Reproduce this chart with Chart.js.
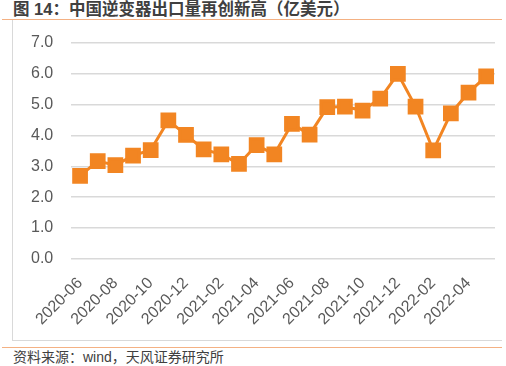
<!DOCTYPE html>
<html>
<head>
<meta charset="utf-8">
<script src="https://cdn.jsdelivr.net/npm/chart.js@4"></script>
<style>
  html, body { margin: 0; padding: 0; background: #fff; }
  body { width: 506px; height: 366px; position: relative; overflow: hidden; font-family: "Liberation Sans", "Noto Sans CJK SC", sans-serif; }
  #title { position: absolute; left: 13px; top: 0px; font-size: 16.5px; font-weight: bold; color: #404040; font-family: "Liberation Sans", "Noto Sans CJK SC", sans-serif; line-height: 18px; }
  #topline { position: absolute; left: 2px; top: 19px; width: 500px; height: 1px; background: #f4b183; }
  #box { position: absolute; left: 12px; top: 20px; width: 489px; height: 320px; border-left: 1px solid #d9d9d9; border-bottom: 1px solid #d9d9d9; }
  #wrap { position: absolute; left: 13px; top: 21px; width: 494px; height: 318px; }
  #botline { position: absolute; left: 2px; top: 347px; width: 500px; height: 1px; background: #f4b183; }
  #source { position: absolute; left: 13px; top: 349px; font-size: 14px; color: #404040; line-height: 17px; font-family: "Liberation Sans", "Noto Sans CJK SC", sans-serif; }
</style>
</head>
<body>
<div id="title">图 14：中国逆变器出口量再创新高（亿美元）</div>
<div id="topline"></div>
<div id="box"></div>
<div id="wrap"><canvas id="c"></canvas></div>
<div id="botline"></div>
<div id="source">资料来源：wind，天风证券研究所</div>
<script>
// months 2020-06 .. 2022-05
const months = ['2020-06','2020-07','2020-08','2020-09','2020-10','2020-11','2020-12',
  '2021-01','2021-02','2021-03','2021-04','2021-05','2021-06','2021-07','2021-08','2021-09',
  '2021-10','2021-11','2021-12','2022-01','2022-02','2022-03','2022-04','2022-05'];

// export value, 亿美元
const exportValue = [2.69, 3.17, 3.04, 3.35, 3.53, 4.49, 4.02, 3.55, 3.39, 3.08, 3.69, 3.39,
  4.38, 4.03, 4.92, 4.94, 4.81, 5.20, 6.00, 4.94, 3.52, 4.72, 5.39, 5.92];

const yTicks = [0, 1, 2, 3, 4, 5, 6, 7];

const orange = '#f28522';

new Chart(document.getElementById('c'), {
  type: 'line',
  data: {
    labels: months,
    datasets: [{
      data: exportValue,
      borderColor: orange,
      backgroundColor: orange,
      borderWidth: 3,
      pointStyle: 'rect',
      pointRadius: 9,
      pointHoverRadius: 9,
      tension: 0
    }]
  },
  options: {
    responsive: true,
    maintainAspectRatio: false,
    animation: false,
    layout: { padding: { top: 22, right: 1, bottom: 3, left: 0 } },
    plugins: { legend: { display: false }, tooltip: { enabled: false } },
    scales: {
      x: {
        offset: true,
        afterFit: (axis) => { axis.paddingRight = 0; },
        grid: { display: false },
        border: { display: false },
        ticks: {
          autoSkip: false,
          maxRotation: 45,
          minRotation: 45,
          color: '#595959',
          font: { family: 'Liberation Sans', size: 16 },
          padding: 7,
          callback: (v, i) => (i % 2 === 0 ? months[i] : '')
        }
      },
      y: {
        min: yTicks[0],
        max: yTicks[yTicks.length - 1],
        afterBuildTicks: (axis) => { axis.ticks = yTicks.map(v => ({ value: v })); },
        // tick padding would otherwise also push the plot down from the top
        afterFit: (axis) => { axis.paddingTop = 0; axis.paddingBottom = 0; },
        grid: { color: '#d9d9d9', lineWidth: 1.5, drawTicks: false },
        border: { display: false },
        ticks: {
          color: '#595959',
          font: { family: 'Liberation Sans', size: 16 },
          padding: 18,
          callback: (v) => v.toFixed(1)
        }
      }
    }
  }
});
</script>
</body>
</html>
